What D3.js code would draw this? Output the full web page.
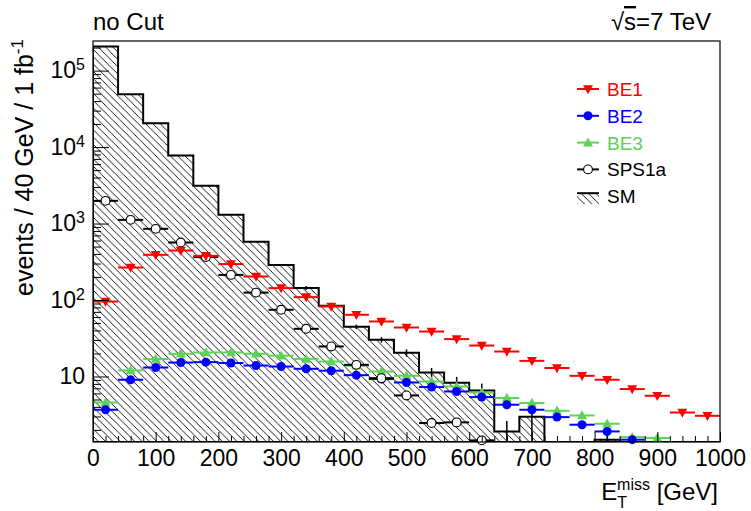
<!DOCTYPE html>
<html>
<head>
<meta charset="utf-8">
<script src="https://d3js.org/d3.v7.min.js"></script>
<style>
  body { margin: 0; background: #fff; }
  svg { font-family: "Liberation Sans", Arial, sans-serif; }
</style>
</head>
<body>
<svg width="751" height="511"></svg>
<script>
// binning: 25 bins of 40 GeV, 0..1000
const binWidth = 40;
const binLow = d3.range(25).map(i => i * binWidth);

// SM background (events / bin) and its error
const smVals = [2.06e5, 4.91e4, 2.05e4, 7740, 3110, 1300, 577, 288, 144, 84, 44.7, 30.2, 20.4, 11.3, 8.27, 6.56, 1.91, 2.97, 0, 0, 1.49, 0, 0, 0, 0];
const smErr  = [500, 200, 90, 40, 20, 10, 6, 4, 9, 6, 3, 2.5, 2.2, 1.6, 1.6, 1.5, 0.7, 1.6, 0, 0, 0.62, 0, 0, 0, 0];

// signal points
const be1   = [95.5, 266, 390, 444, 378, 295, 203, 143, 109, 82.2, 64.1, 52.4, 43.7, 38.7, 30.8, 25.4, 21.2, 16.0, 12.9, 10.2, 9.06, 6.85, 5.59, 3.38, 3.06];
const be2   = [3.67, 9.06, 13.1, 15.2, 15.4, 15.0, 13.9, 13.5, 12.6, 11.9, 10.4, 9.25, 8.35, 7.27, 6.37, 5.38, 4.27, 3.67, 2.94, 2.34, 1.91, 1.49, 0, 0, 0];
const be3   = [4.57, 12.0, 16.9, 19.8, 20.6, 20.6, 19.8, 18.7, 17.0, 15.7, 13.8, 11.6, 10.2, 8.6, 7.4, 6.18, 5.22, 4.49, 3.56, 3.09, 2.41, 1.61, 1.57, 0, 0];
const sps1a = [1982, 1117, 853, 565, 364, 213, 125, 74.5, 42.0, 24.7, 14.2, 9.5, 5.65, 2.46, 2.51, 1.46, 0, 0, 0, 0, 0, 0, 0, 0, 0];

const xMajor = [0, 100, 200, 300, 400, 500, 600, 700, 800, 900, 1000];
const yMajor = [10, 100, 1000, 10000, 100000];
const yExp   = ["", "2", "3", "4", "5"];

const svg = d3.select("svg");
const margin = {top: 41, right: 31, bottom: 69, left: 93};
const width = 751 - margin.left - margin.right,
      height = 511 - margin.top - margin.bottom;

const x = d3.scaleLinear().domain([0, 1000]).range([margin.left, margin.left + width]);
const y = d3.scaleLog().domain([1.39, 2.44e5]).range([margin.top + height, margin.top]);
const yc = v => v > 0 ? Math.max(margin.top, Math.min(y.range()[0], y(v))) : y.range()[0];

// hatch pattern for SM
const defs = svg.append("defs");
const pat = defs.append("pattern")
    .attr("id", "hatch").attr("patternUnits", "userSpaceOnUse")
    .attr("width", 7.3).attr("height", 7.3);
pat.append("path").attr("d", "M-1,-1 L8.3,8.3 M-1,6.3 L1,8.3 M6.3,-1 L8.3,1")
    .attr("stroke", "#000").attr("stroke-width", 0.9);
defs.append("clipPath").attr("id", "frame").append("rect")
    .attr("x", margin.left).attr("y", margin.top).attr("width", width).attr("height", height);

// SM histogram
let d = `M${x(0)},${y.range()[0]}`;
binLow.forEach((lo, i) => {
  d += ` L${x(lo)},${yc(smVals[i])} L${x(lo + binWidth)},${yc(smVals[i])}`;
});
d += ` L${x(1000)},${y.range()[0]} Z`;
const gPlot = svg.append("g").attr("clip-path", "url(#frame)");
gPlot.append("path").attr("d", d).attr("fill", "url(#hatch)")
    .attr("stroke", "#000").attr("stroke-width", 2).attr("stroke-linejoin", "miter");

// SM error bars
gPlot.selectAll(".smerr").data(binLow.filter((lo, i) => smVals[i] > 0 && smErr[i] > 0))
  .enter().append("line")
    .attr("x1", lo => x(lo + binWidth / 2)).attr("x2", lo => x(lo + binWidth / 2))
    .attr("y1", lo => yc(smVals[lo / binWidth] + smErr[lo / binWidth]))
    .attr("y2", lo => { const v = smVals[lo / binWidth] - smErr[lo / binWidth]; return v > 0 ? yc(v) : y.range()[0]; })
    .attr("stroke", "#000").attr("stroke-width", 1.5);

// markers
const tri = (dir, s) => dir > 0
  ? `M0,${-s * 0.58} L${s * 0.55},${s * 0.42} L${-s * 0.55},${s * 0.42} Z`
  : `M0,${s * 0.58} L${s * 0.55},${-s * 0.42} L${-s * 0.55},${-s * 0.42} Z`;

const series = [
  {name: "BE3", vals: be3, color: "#59d454", marker: "up"},
  {name: "BE2", vals: be2, color: "#0000ff", marker: "dot"},
  {name: "SPS1a", vals: sps1a, color: "#000000", marker: "open"},
  {name: "BE1", vals: be1, color: "#ff0000", marker: "down"}
];

function drawMarker(g, m, color) {
  if (m === "up") g.append("path").attr("d", tri(1, 9)).attr("fill", color);
  else if (m === "down") g.append("path").attr("d", tri(-1, 9)).attr("fill", color);
  else if (m === "dot") g.append("circle").attr("r", 4.5).attr("fill", color);
  else g.append("circle").attr("r", 4.4).attr("fill", "#fff").attr("stroke", color).attr("stroke-width", 1.1);
}

series.forEach(s => {
  const pts = binLow.map((lo, i) => ({lo, v: s.vals[i]})).filter(p => p.v > 0);
  const g = svg.append("g");
  g.selectAll("line").data(pts).enter().append("line")
      .attr("x1", p => x(p.lo)).attr("x2", p => x(p.lo + binWidth))
      .attr("y1", p => y(p.v)).attr("y2", p => y(p.v))
      .attr("stroke", s.color).attr("stroke-width", 2);
  pts.forEach(p => {
    const mg = g.append("g").attr("transform", `translate(${x(p.lo + binWidth / 2)},${y(p.v)})`);
    drawMarker(mg, s.marker, s.color);
  });
});

// frame
svg.append("rect").attr("x", margin.left).attr("y", margin.top)
    .attr("width", width).attr("height", height)
    .attr("fill", "none").attr("stroke", "#000").attr("stroke-width", 1.2);

// x axis
const xMinor = d3.range(0, 1001, 20).filter(v => v % 100 !== 0);
const xAxisG = svg.append("g").attr("transform", `translate(0,${y.range()[0]})`);
xAxisG.append("g").call(d3.axisBottom(x).tickValues(xMinor).tickSize(-6).tickSizeOuter(0).tickFormat(""));
xAxisG.append("g").call(d3.axisBottom(x).tickValues(xMajor).tickSize(-10).tickSizeOuter(0).tickPadding(8).tickFormat(d3.format("d")));
xAxisG.selectAll(".domain").remove();
xAxisG.selectAll("text").attr("font-size", 23).attr("font-family", "Liberation Sans, Arial, sans-serif").attr("fill", "#000");

// y axis
const yMinor = [];
[1, 10, 100, 1000, 10000, 100000].forEach(dec => {
  for (let k = 2; k <= 9; k++) { const v = k * dec; if (v >= 1.39 && v <= 2.44e5) yMinor.push(v); }
});
const yAxisG = svg.append("g").attr("transform", `translate(${margin.left},0)`);
yAxisG.append("g").call(d3.axisLeft(y).tickValues(yMinor).tickSize(-8).tickSizeOuter(0).tickFormat(""));
yAxisG.append("g").call(d3.axisLeft(y).tickValues(yMajor).tickSize(-16).tickSizeOuter(0).tickPadding(8).tickFormat(() => "10"));
yAxisG.selectAll(".domain").remove();
yAxisG.selectAll("line").attr("stroke", "#000");
xAxisG.selectAll("line").attr("stroke", "#000");
yAxisG.selectAll("text").attr("font-size", 23).attr("font-family", "Liberation Sans, Arial, sans-serif").attr("fill", "#000")
  .each(function(v, i) {
    const e = yExp[yMajor.indexOf(v)];
    if (e) {
      d3.select(this).append("tspan").attr("font-size", 16).attr("dy", "-0.5em").text(e);
    }
  });

// axis titles
svg.append("text").attr("transform", "translate(33,39) rotate(-90)")
    .attr("text-anchor", "end").attr("font-size", 25)
    .call(t => {
      t.append("tspan").text("events / 40 GeV / 1 fb");
      t.append("tspan").attr("font-size", 17).attr("dy", -10).text("-1");
    });

const xt = svg.append("text").attr("x", 718).attr("y", 500).attr("text-anchor", "end").attr("font-size", 24);
xt.append("tspan").text("E");
xt.append("tspan").attr("font-size", 16).attr("dy", 8).text("T");
xt.append("tspan").attr("font-size", 16).attr("dy", -18).attr("dx", -10).text("miss");
xt.append("tspan").attr("dy", 10).text(" [GeV]");

// header texts
svg.append("text").attr("x", 93).attr("y", 30).attr("font-size", 24).text("no Cut");
const sq = svg.append("text").attr("x", 711).attr("y", 30).attr("font-size", 24).attr("text-anchor", "end");
sq.append("tspan").text("√");
sq.append("tspan").attr("text-decoration", "overline").text("s");
sq.append("tspan").text("=7 TeV");

// legend
const legendItems = [
  {name: "BE1", color: "#ff0000", marker: "down"},
  {name: "BE2", color: "#0000ff", marker: "dot"},
  {name: "BE3", color: "#59d454", marker: "up"},
  {name: "SPS1a", color: "#000000", marker: "open"},
  {name: "SM", color: "#000000", marker: "hist"}
];
const lg = svg.append("g");
legendItems.forEach((it, i) => {
  const cy = 89 + i * 26.8;
  const row = lg.append("g").attr("transform", `translate(0,${cy})`);
  if (it.marker === "hist") {
    row.append("rect").attr("x", 577).attr("y", -3).attr("width", 22).attr("height", 11).attr("fill", "url(#hatch)");
    row.append("line").attr("x1", 577).attr("x2", 599).attr("y1", -3).attr("y2", -3).attr("stroke", "#000").attr("stroke-width", 2);
  } else {
    row.append("line").attr("x1", 577).attr("x2", 599).attr("y1", 0).attr("y2", 0).attr("stroke", it.color).attr("stroke-width", 2);
    const mg = row.append("g").attr("transform", "translate(588,0)");
    drawMarker(mg, it.marker, it.color);
  }
  row.append("text").attr("x", 607).attr("y", 7).attr("font-size", 19)
      .attr("fill", it.marker === "hist" || it.marker === "open" ? "#000" : it.color).text(it.name);
});
</script>
</body>
</html>
